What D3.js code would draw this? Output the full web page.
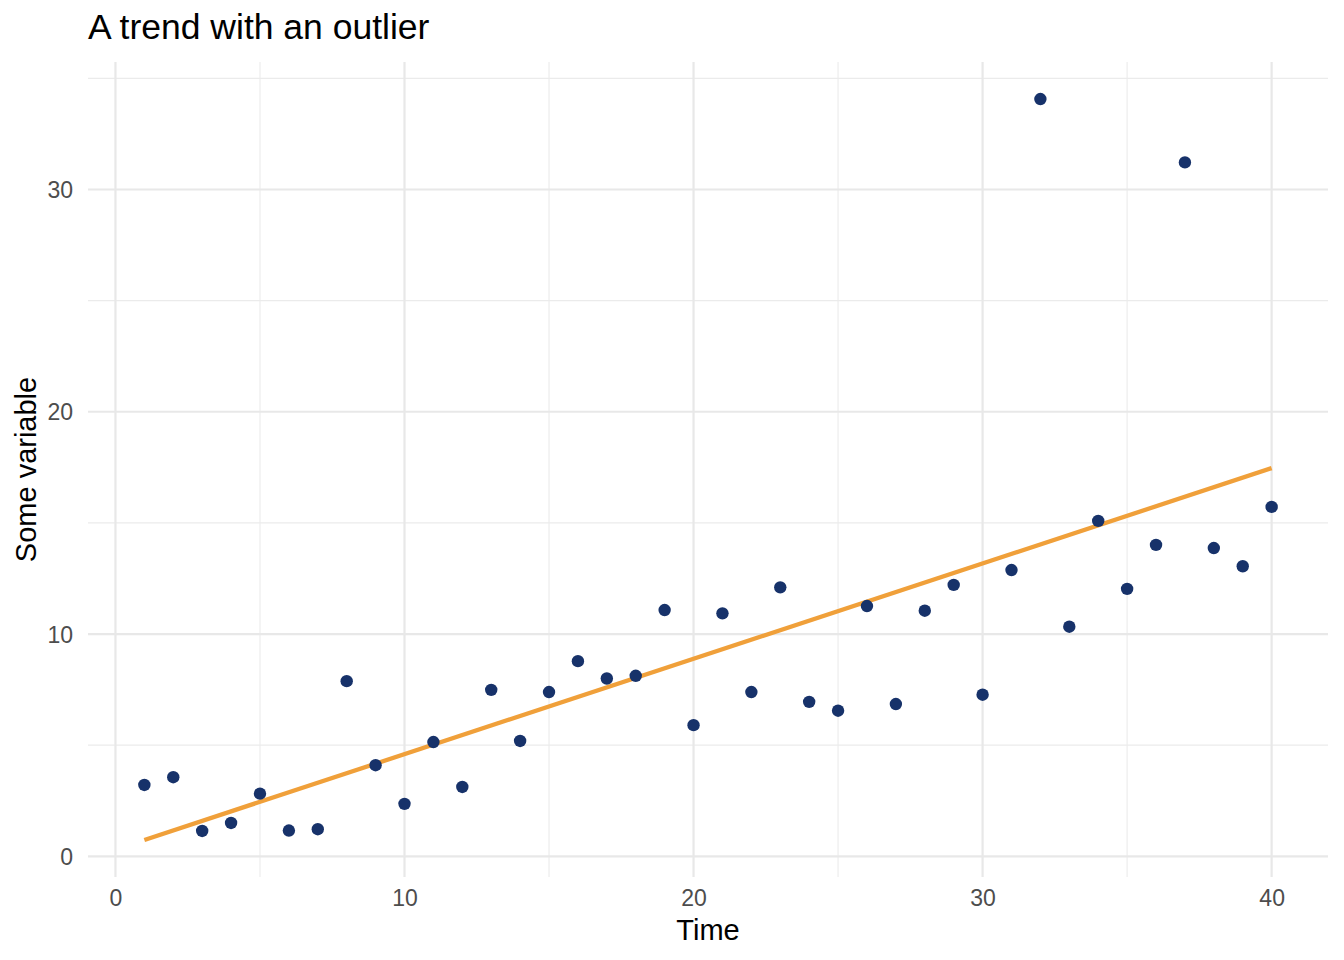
<!DOCTYPE html>
<html>
<head>
<meta charset="utf-8">
<script src="https://cdn.jsdelivr.net/npm/d3@7"></script>
<style>
  html, body { margin: 0; padding: 0; background: #ffffff; }
  svg { display: block; }
  text { font-family: "Liberation Sans", Arial, Helvetica, sans-serif; }
</style>
</head>
<body>
<svg id="chart" width="1344" height="960"></svg>
<script>
// ---- Data ----
const timeValues = [1,2,3,4,5,6,7,8,9,10,11,12,13,14,15,16,17,18,19,20,21,22,23,24,25,26,27,28,29,30,31,32,33,34,35,36,37,38,39,40];
const someVariable = [3.21,3.56,1.14,1.50,2.82,1.16,1.22,7.88,4.10,2.36,5.14,3.12,7.49,5.19,7.39,8.78,8.00,8.12,11.08,5.90,10.93,7.39,12.10,6.95,6.55,11.26,6.85,11.05,12.21,7.27,12.88,34.07,10.33,15.09,12.03,14.01,31.22,13.87,13.05,15.72];
const xTicks = [0, 10, 20, 30, 40];
const xMinorTicks = [5, 15, 25, 35];
const yTicks = [0, 10, 20, 30];
const yMinorTicks = [5, 15, 25, 35];
const titleText = "A trend with an outlier";
const xLabel = "Time";
const yLabel = "Some variable";

const points = timeValues.map((t, i) => ({ x: t, y: someVariable[i] }));

// Linear regression (lm) fit
const mx = d3.mean(points, d => d.x);
const my = d3.mean(points, d => d.y);
const slope = d3.sum(points, d => (d.x - mx) * (d.y - my)) / d3.sum(points, d => (d.x - mx) ** 2);
const intercept = my - slope * mx;
const xExt = d3.extent(timeValues);
const fitLine = xExt.map(x => ({ x, y: intercept + slope * x }));

// ---- Layout ----
const svg = d3.select("#chart");
const panel = { left: 88, right: 1328, top: 62, bottom: 877 };

const xr = xExt[1] - xExt[0];
const x = d3.scaleLinear()
  .domain([xExt[0] - 0.05 * xr, xExt[1] + 0.05 * xr])
  .range([panel.left, panel.right]);

const allY = someVariable.concat(fitLine.map(d => d.y));
const yExt = d3.extent(allY);
const yr = yExt[1] - yExt[0];
const y = d3.scaleLinear()
  .domain([yExt[0] - 0.05 * yr, yExt[1] + 0.05 * yr])
  .range([panel.bottom, panel.top]);

const grid = svg.append("g");
// minor gridlines
grid.selectAll(".vminor").data(xMinorTicks).enter().append("line")
  .attr("x1", d => x(d)).attr("x2", d => x(d))
  .attr("y1", panel.top).attr("y2", panel.bottom)
  .attr("stroke", "#ebebeb").attr("stroke-width", 1.1);
grid.selectAll(".hminor").data(yMinorTicks.filter(v => y(v) >= panel.top)).enter().append("line")
  .attr("x1", panel.left).attr("x2", panel.right)
  .attr("y1", d => y(d)).attr("y2", d => y(d))
  .attr("stroke", "#ebebeb").attr("stroke-width", 1.1);
// major gridlines
grid.selectAll(".vmajor").data(xTicks).enter().append("line")
  .attr("x1", d => x(d)).attr("x2", d => x(d))
  .attr("y1", panel.top).attr("y2", panel.bottom)
  .attr("stroke", "#e8e8e8").attr("stroke-width", 2.2);
grid.selectAll(".hmajor").data(yTicks).enter().append("line")
  .attr("x1", panel.left).attr("x2", panel.right)
  .attr("y1", d => y(d)).attr("y2", d => y(d))
  .attr("stroke", "#e8e8e8").attr("stroke-width", 2.2);

// Axes (labels only)
const xAxis = d3.axisBottom(x).tickValues(xTicks).tickSize(0).tickPadding(0).tickFormat(d3.format("d"));
const gx = svg.append("g").attr("transform", `translate(0,${panel.bottom})`).call(xAxis);
gx.select(".domain").remove();
gx.selectAll("text")
  .attr("y", 29).attr("dy", null)
  .attr("font-size", 23).attr("fill", "#4d4d4d")
  .style("font-family", "'Liberation Sans', Arial, sans-serif");

const yAxis = d3.axisLeft(y).tickValues(yTicks).tickSize(0).tickPadding(0).tickFormat(d3.format("d"));
const gy = svg.append("g").attr("transform", `translate(${panel.left},0)`).call(yAxis);
gy.select(".domain").remove();
gy.selectAll("text")
  .attr("x", -15).attr("dy", "0.35em")
  .attr("font-size", 23).attr("fill", "#4d4d4d")
  .style("font-family", "'Liberation Sans', Arial, sans-serif");

// Trend line
svg.append("path")
  .datum(fitLine)
  .attr("d", d3.line().x(d => x(d.x)).y(d => y(d.y)))
  .attr("fill", "none")
  .attr("stroke", "#f0a03a")
  .attr("stroke-width", 4.3);

// Points
svg.append("g").selectAll("circle").data(points).enter().append("circle")
  .attr("cx", d => x(d.x))
  .attr("cy", d => y(d.y))
  .attr("r", 6.2)
  .attr("fill", "#17326a");

// Title
svg.append("text")
  .attr("x", 88).attr("y", 39)
  .attr("font-size", 35.5).attr("fill", "#000")
  .text(titleText);

// Axis titles
svg.append("text")
  .attr("x", (panel.left + panel.right) / 2).attr("y", 940)
  .attr("text-anchor", "middle")
  .attr("font-size", 29).attr("fill", "#000")
  .text(xLabel);

svg.append("text")
  .attr("transform", `translate(36,${(panel.top + panel.bottom) / 2}) rotate(-90)`)
  .attr("text-anchor", "middle")
  .attr("font-size", 29).attr("fill", "#000")
  .text(yLabel);
</script>
</body>
</html>
